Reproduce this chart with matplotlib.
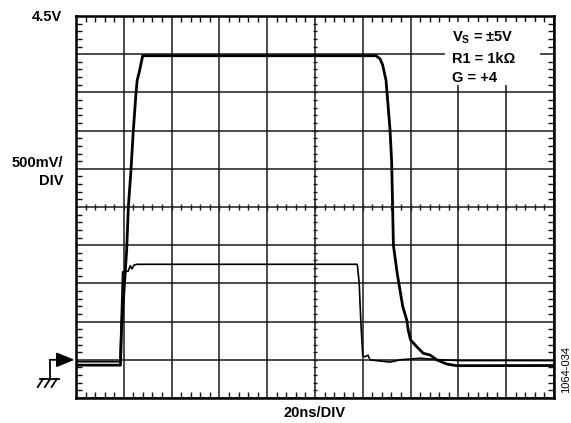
import numpy as np
import matplotlib
matplotlib.use('Agg')
import matplotlib.pyplot as plt
from matplotlib.patches import Rectangle

plt.rcParams['font.family'] = ['Liberation Sans', 'DejaVu Sans']
plt.rcParams['mathtext.fontset'] = 'custom'
plt.rcParams['mathtext.rm'] = 'Liberation Sans:bold'
plt.rcParams['mathtext.default'] = 'rm'

# time in ns (20ns/div), volts (500mV/div)
t_out = [0, 18.6, 19.1, 21.2, 21.9, 23.0, 24.0, 25.1, 25.6, 26.5, 27.5, 27.9,
         125.5, 127.2, 128.3, 129.7, 131.4, 132.1, 132.8, 134.4, 136.7, 138.4,
         139.0, 140.0, 142.6, 145.3, 148.1, 150.9, 155.1, 159.3, 200]
v_out = [-0.07, -0.07, 0.43, 1.44, 2.00, 2.48, 3.01, 3.49, 3.66, 3.77, 3.92, 3.98,
         3.98, 3.94, 3.86, 3.66, 3.01, 2.57, 1.50, 1.13, 0.70, 0.52,
         0.39, 0.26, 0.17, 0.085, 0.063, 0.0, -0.055, -0.077, -0.075]

t_in = [0, 18.4, 19.5, 21.8, 22.7, 23.4, 24.3, 25.5, 117.7, 118.5, 119.2, 120.0,
        120.9, 122.2, 123.0, 125.5, 131.4, 135.6, 143.9, 152.3, 160.7, 200]
v_in = [-0.025, -0.025, 1.15, 1.16, 1.23, 1.19, 1.24, 1.25, 1.25, 1.00, 0.48, 0.05,
        0.04, 0.06, 0.0, -0.01, -0.03, 0.0, 0.02, 0.0, -0.01, -0.01]

x_div = 20.0
y_div = 0.5

W, H = 571, 423
fig = plt.figure(figsize=(W / 100, H / 100), dpi=100)
ax = fig.add_axes([76 / W, 1 - 398 / H, 478 / W, 382 / H])

ax.set_xlim(0, 10 * x_div)
ax.set_ylim(-0.5, 4.5)
ax.set_xticks(np.arange(0, 10 * x_div + 1, x_div))
ax.set_yticks(np.arange(-0.5, 4.5 + 0.01, y_div))
ax.set_xticks(np.arange(0, 10 * x_div + 0.1, x_div / 5), minor=True)
ax.set_yticks(np.arange(-0.5, 4.5 + 0.01, y_div / 5), minor=True)
ax.set_xticklabels([])
ax.set_yticklabels([])
ax.tick_params(which='major', length=0)
ax.tick_params(which='minor', direction='in', length=4, width=1.0,
               top=True, right=True, color='#111111')
ax.grid(which='major', color='#1a1a1a', lw=1.1)
ax.set_axisbelow(True)
for s in ax.spines.values():
    s.set_linewidth(1.8)
    s.set_color('black')

# small cross ticks on the centre lines
xc = 5 * x_div
yc = -0.5 + 5 * y_div
ax.vlines(np.arange(0, 10 * x_div + 0.1, x_div / 5), yc - 0.035, yc + 0.035,
          color='#1a1a1a', lw=1.0, zorder=0.6)
ax.hlines(np.arange(-0.5, 4.5 + 0.01, y_div / 5), xc - 1.0, xc + 1.0,
          color='#1a1a1a', lw=1.0, zorder=0.6)

ax.plot(t_out, v_out, color='black', lw=2.0, zorder=3)
ax.plot(t_in, v_in, color='black', lw=1.2, zorder=3)

# label box
ax.add_patch(Rectangle((0.772, 0.819), 0.199, 0.165, transform=ax.transAxes,
                       facecolor='white', edgecolor='none', zorder=2))
fs = 10.5
ax.text(0.787, 0.933, 'V$_{S}$ = ±5V', transform=ax.transAxes, fontsize=fs,
        fontweight='bold', va='baseline', zorder=4)
ax.text(0.787, 0.876, 'R1 = 1kΩ', transform=ax.transAxes, fontsize=fs,
        fontweight='bold', va='baseline', zorder=4)
ax.text(0.787, 0.826, 'G = +4', transform=ax.transAxes, fontsize=fs,
        fontweight='bold', va='baseline', zorder=4)

# ground marker
tr = ax.get_yaxis_transform()
ax.annotate('', xy=(-0.003, 0.0), xycoords=tr, xytext=(-0.055, 0.0),
            textcoords=tr,
            arrowprops=dict(arrowstyle='-|>,head_length=1.1,head_width=0.45',
                            color='black', lw=1.3, shrinkA=0, shrinkB=0),
            annotation_clip=False)
ax.plot([-0.054, -0.054], [0.0, -0.25], color='black', lw=1.3,
        transform=tr, clip_on=False)
ax.plot([-0.075, -0.036], [-0.25, -0.25], color='black', lw=1.3,
        transform=tr, clip_on=False)
for x0 in [-0.069, -0.054, -0.040]:
    ax.plot([x0, x0 - 0.011], [-0.25, -0.356], color='black', lw=1.3,
            transform=tr, clip_on=False)

fig.text(62 / W, 1 - 16.7 / H, '4.5V', ha='right', va='center', fontsize=fs,
         fontweight='bold')
fig.text(63 / W, 1 - 162.7 / H, '500mV/', ha='right', va='center', fontsize=fs,
         fontweight='bold')
fig.text(63 / W, 1 - 180.7 / H, 'DIV', ha='right', va='center', fontsize=fs,
         fontweight='bold')
fig.text(315 / W, 1 - 413 / H, '20ns/DIV', ha='center', va='center',
         fontsize=fs, fontweight='bold')
fig.text(566 / W, 1 - 369 / H, '1064-034', ha='center', va='center',
         rotation=90, fontsize=8)

fig.savefig('out.png', dpi=100)
